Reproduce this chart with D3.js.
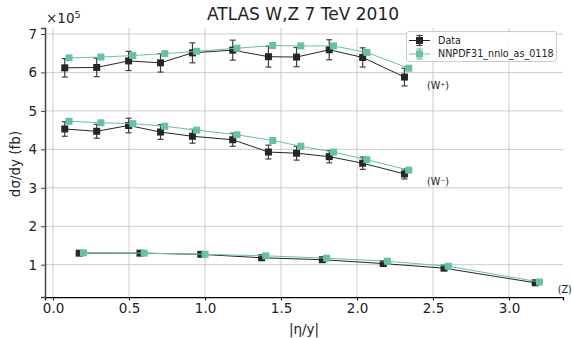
<!DOCTYPE html>
<html>
<head>
<meta charset="utf-8">
<script src="https://cdn.jsdelivr.net/npm/d3@7"></script>
<style>
  body { margin: 0; background: #fff; }
  svg { display: block; font-family: "DejaVu Sans", sans-serif; }
</style>
</head>
<body>
<svg id="chart" width="572" height="338"></svg>
<script>
// ---- data (cross sections in fb) ----
const wBinCenters = [0.105, 0.315, 0.525, 0.735, 0.945, 1.21, 1.445, 1.63, 1.845, 2.065, 2.34];
const zBinCenters = [0.2, 0.6, 1.0, 1.4, 1.8, 2.2, 2.6, 3.2];
const dataShift = -0.028;

const wPlusData   = [612000, 613000, 630000, 625000, 651000, 658000, 641000, 640000, 659000, 639000, 588000];
const wPlusDataErr= [24000, 24000, 25000, 24000, 26000, 26000, 27000, 25000, 26000, 25000, 23000];
const wPlusModel  = [638000, 640000, 644000, 649000, 655000, 663000, 670000, 669000, 669000, 652000, 611000];
const wPlusModelErr=[3000, 3000, 3000, 3000, 3000, 3000, 3000, 3000, 3000, 3000, 3000];

const wMinusData   = [453000, 447000, 462000, 445000, 434000, 425000, 393000, 390000, 381000, 364000, 336000];
const wMinusDataErr= [19000, 18000, 19000, 19000, 18000, 17000, 18000, 18000, 16000, 16000, 13000];
const wMinusModel  = [473000, 469000, 467000, 460000, 450000, 438000, 423000, 408000, 393000, 373000, 346000];
const wMinusModelErr=[2500, 2500, 2500, 2500, 2500, 2500, 2500, 2500, 2500, 2500, 2500];

const zData   = [130000, 130000, 127000, 118000, 113000, 103000, 91000, 53000];
const zDataErr= [2500, 2500, 2500, 2500, 2500, 2500, 2500, 2500];
const zModel  = [131000, 130000, 127000, 123000, 117000, 109000, 96000, 55000];
const zModelErr=[1000, 1000, 1000, 1000, 1000, 1000, 1000, 1000];

const xTicks = [0, 0.5, 1.0, 1.5, 2.0, 2.5, 3.0];
const yTicks = [100000, 200000, 300000, 400000, 500000, 600000, 700000];
const seriesNames = ["Data", "NNPDF31_nnlo_as_0118"];
const channelLabels = ["(W\u207A)", "(W\u207B)", "(Z)"];
const titleText = "ATLAS W,Z 7 TeV 2010";

// ---- styling ----
const dataColor = "#262626";
const dataErrColor = "#404040";
const modelColor = "#66c2a5";
const gridColor = "#cccccc";

const svg = d3.select("#chart");
const m = {left: 45, right: 563, top: 28, bottom: 297};

const x = d3.scaleLinear().domain([-0.053, 3.355]).range([m.left, m.right]);
const y = d3.scaleLinear().domain([16000, 715600]).range([m.bottom, m.top]);

// grid
const grid = svg.append("g");
grid.selectAll(".vg").data(xTicks).join("line")
  .attr("x1", d => x(d)).attr("x2", d => x(d))
  .attr("y1", m.top).attr("y2", m.bottom)
  .attr("stroke", gridColor).attr("stroke-width", 1);
grid.selectAll(".hg").data(yTicks).join("line")
  .attr("y1", d => y(d)).attr("y2", d => y(d))
  .attr("x1", m.left).attr("x2", m.right)
  .attr("stroke", gridColor).attr("stroke-width", 1);

// axes
const xAxis = d3.axisBottom(x).tickValues(xTicks).tickFormat(d3.format(".1f")).tickSize(3.5).tickPadding(3);
const gx = svg.append("g").attr("transform", `translate(0,${m.bottom})`).call(xAxis);
gx.select(".domain").attr("stroke", "#000").attr("stroke-width", 1.25);
gx.selectAll(".tick line").attr("stroke", "#000").attr("stroke-width", 1);
gx.selectAll(".tick text").attr("font-size", 13.5).attr("fill", "#222").attr("font-family", "DejaVu Sans");

const yAxis = d3.axisLeft(y).tickValues(yTicks).tickFormat(d => d / 1e5).tickSize(4).tickPadding(4);
const gy = svg.append("g").attr("transform", `translate(${m.left},0)`).call(yAxis);
gy.select(".domain").attr("stroke", "#444").attr("stroke-width", 1.5);
gy.selectAll(".tick line").attr("stroke", "#444").attr("stroke-width", 1);
gy.selectAll(".tick text").attr("font-size", 13.5).attr("fill", "#222").attr("font-family", "DejaVu Sans");

// offset text
const off = svg.append("text").attr("x", 46).attr("y", 23).attr("font-size", 13.5).attr("fill", "#222");
off.append("tspan").text("\u00D710");
off.append("tspan").attr("dy", -5).attr("font-size", 9.5).text("5");

// title
svg.append("text").attr("x", (m.left + m.right) / 2 - 1).attr("y", 20)
  .attr("text-anchor", "middle").attr("font-size", 17).attr("fill", "#222").text(titleText);

// axis labels
svg.append("text").attr("x", 304).attr("y", 334).attr("text-anchor", "middle")
  .attr("font-size", 13.5).attr("fill", "#222").text("|\u03B7/y|");
svg.append("text").attr("transform", "translate(20,164) rotate(-90)").attr("text-anchor", "middle")
  .attr("font-size", 13.5).attr("fill", "#222").text("d\u03C3/dy (fb)");

// series drawing
function drawSeries(xs, vals, errs, color, errColor, lw, shift) {
  const pts = xs.map((c, i) => ({x: c + shift, v: vals[i], e: errs[i]}));
  const g = svg.append("g");
  g.append("path").datum(pts)
    .attr("d", d3.line().x(d => x(d.x)).y(d => y(d.v)))
    .attr("fill", "none").attr("stroke", color).attr("stroke-width", lw);
  const eb = g.selectAll(".eb").data(pts).join("g");
  eb.append("line").attr("x1", d => x(d.x)).attr("x2", d => x(d.x))
    .attr("y1", d => y(d.v - d.e)).attr("y2", d => y(d.v + d.e))
    .attr("stroke", errColor).attr("stroke-width", 1.2);
  [-1, 1].forEach(s => {
    eb.append("line").attr("x1", d => x(d.x) - 3).attr("x2", d => x(d.x) + 3)
      .attr("y1", d => y(d.v + s * d.e)).attr("y2", d => y(d.v + s * d.e))
      .attr("stroke", errColor).attr("stroke-width", 1.2);
  });
  g.selectAll(".mk").data(pts).join("rect")
    .attr("x", d => x(d.x) - 3.5).attr("y", d => y(d.v) - 3.5)
    .attr("width", 7).attr("height", 7).attr("fill", color);
}

drawSeries(wBinCenters, wPlusData, wPlusDataErr, dataColor, dataErrColor, 1, dataShift);
drawSeries(wBinCenters, wMinusData, wMinusDataErr, dataColor, dataErrColor, 1, dataShift);
drawSeries(zBinCenters, zData, zDataErr, dataColor, dataErrColor, 1, dataShift);
drawSeries(wBinCenters, wPlusModel, wPlusModelErr, modelColor, modelColor, 1, 0);
drawSeries(wBinCenters, wMinusModel, wMinusModelErr, modelColor, modelColor, 1, 0);
drawSeries(zBinCenters, zModel, zModelErr, modelColor, modelColor, 1, 0);

// channel labels
const labelPos = [[2.46, 565000], [2.46, 315000], [3.32, 34000]];
channelLabels.forEach((t, i) => {
  svg.append("text").attr("x", x(labelPos[i][0])).attr("y", y(labelPos[i][1]))
    .attr("dy", "0.35em").attr("font-size", 9.6).attr("fill", "#222").text(t);
});

// legend
const lg = svg.append("g");
lg.append("rect").attr("x", 406.5).attr("y", 31.5).attr("width", 150).attr("height", 30)
  .attr("rx", 2.5).attr("fill", "#fff").attr("fill-opacity", 0.85)
  .attr("stroke", "#cccccc").attr("stroke-width", 1);
[[dataColor, dataErrColor, 40.5], [modelColor, modelColor, 54]].forEach(([c, ec, yy], i) => {
  lg.append("line").attr("x1", 409).attr("x2", 430).attr("y1", yy).attr("y2", yy).attr("stroke", c).attr("stroke-width", 1);
  lg.append("line").attr("x1", 419.5).attr("x2", 419.5).attr("y1", yy - 5).attr("y2", yy + 5).attr("stroke", ec).attr("stroke-width", 1.2);
  lg.append("line").attr("x1", 416.5).attr("x2", 422.5).attr("y1", yy - 5).attr("y2", yy - 5).attr("stroke", ec).attr("stroke-width", 1.2);
  lg.append("line").attr("x1", 416.5).attr("x2", 422.5).attr("y1", yy + 5).attr("y2", yy + 5).attr("stroke", ec).attr("stroke-width", 1.2);
  lg.append("rect").attr("x", 416).attr("y", yy - 3.5).attr("width", 7).attr("height", 7).attr("fill", c);
  lg.append("text").attr("x", 438).attr("y", yy).attr("dy", "0.35em").attr("font-size", 9.6).attr("fill", "#222").text(seriesNames[i]);
});
</script>
</body>
</html>
